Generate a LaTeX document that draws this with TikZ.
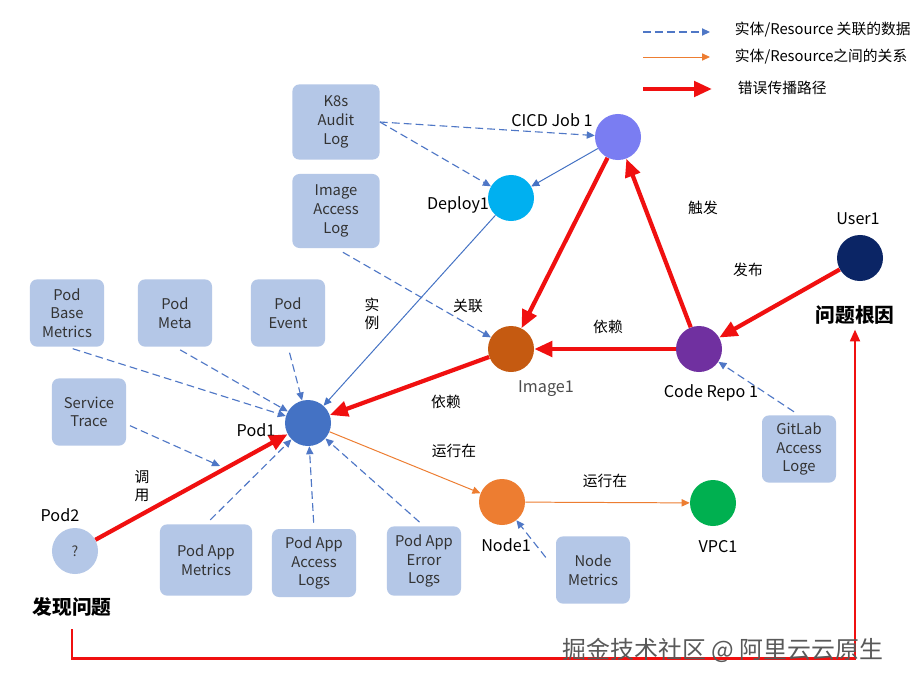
\documentclass[tikz,border=0pt]{standalone}
\usepackage{fontspec}
\setmainfont{Noto Sans CJK SC}
\usepackage{xcolor}
\usepackage{tikz}
\usetikzlibrary{arrows.meta, positioning}

\definecolor{boxc}{HTML}{B4C7E7}
\definecolor{linkc}{HTML}{4F77C6}
\definecolor{errc}{HTML}{F01010}
\definecolor{cicdc}{HTML}{7A7DF2}
\definecolor{depc}{HTML}{00B0F0}
\definecolor{imgc}{HTML}{C55A11}
\definecolor{repoc}{HTML}{7030A0}
\definecolor{userc}{HTML}{0B2565}
\definecolor{podc}{HTML}{4472C4}
\definecolor{nodec}{HTML}{ED7D31}
\definecolor{vpcc}{HTML}{00B050}

\begin{document}
\begin{tikzpicture}[
    x=0.025cm, y=-0.025cm,
    every node/.style={font=\fontsize{10.5}{12}\selectfont},
    ent/.style={circle, minimum size=11.5mm, inner sep=0pt},
    dat/.style={rectangle, rounded corners=5pt, fill=boxc, text=black!80,
                minimum width=18.5mm, minimum height=16.8mm, align=center,
                inner sep=2pt, font=\fontsize{10.5}{13.3}\selectfont},
    lab/.style={font=\fontsize{11.5}{13}\selectfont},
    rlab/.style={font=\fontsize{10.5}{12.5}\selectfont, align=center},
    big/.style={font=\fontsize{14}{16}\selectfont\bfseries},
    dep/.style={-{Triangle[length=2mm,width=1.8mm]}, dash pattern=on 5.5pt off 3pt,
                line width=0.8pt, linkc},
    rel/.style={-{Triangle[length=2mm,width=1.8mm]}, line width=0.7pt},
    err/.style={-{Triangle[length=4.5mm,width=3.8mm]}, line width=3pt, errc},
    fb/.style={-{Triangle[length=3mm,width=2.4mm]}, line width=2pt, errc},
  ]
    \useasboundingbox (0,0) rectangle (912,684);
    \fill[white] (0,0) rectangle (912,684);

    % entities
    \node[ent, fill=cicdc] (cicd) at (618,137) {};
    \node[ent, fill=depc] (deploy) at (511,198) {};
    \node[ent, fill=imgc] (img) at (511,349) {};
    \node[ent, fill=repoc] (repo) at (699,349) {};
    \node[ent, fill=userc] (user) at (860,258) {};
    \node[ent, fill=podc] (pod1) at (308,423) {};
    \node[ent, fill=nodec] (node1) at (502,502) {};
    \node[ent, fill=vpcc] (vpc) at (713,503) {};
    \node[ent, fill=boxc, text=black!75, font=\fontsize{10}{12}\selectfont] (pod2) at (75,551) {?};

    \node[lab] (cicdl) at (552,120) {CICD Job 1};
    \node[lab] (deployl) at (458,205) {Deploy1};
    \node[lab, text=black!70] (imgl) at (546,389) {Image1};
    \node[lab] (repol) at (711,393) {Code Repo 1};
    \node[lab] (userl) at (858,219) {User1};
    \node[lab] (pod1l) at (256,430) {Pod1};
    \node[lab] (node1l) at (506,545) {Node1};
    \node[lab] (vpcl) at (718,547) {VPC1};
    \node[lab] (pod2l) at (60,515) {Pod2};
    \node[big] (root) at (855,315) {问题根因};
    \node[big] (found) at (72,607) {发现问题};

    % data boxes
    \node[dat, minimum width=21.8mm, minimum height=18.8mm] (audit) at (336,122) {K8s\\Audit\\Log};
    \node[dat, minimum width=21.8mm, minimum height=18.5mm] (imglog) at (336,211) {Image\\Access\\Log};
    \node[dat] (basem) at (67,313) {Pod\\Base\\Metrics};
    \node[dat] (meta) at (175,313) {Pod\\Meta};
    \node[dat] (event) at (288,313) {Pod\\Event};
    \node[dat] (trace) at (89,412) {Service\\Trace};
    \node[dat, minimum width=23mm, minimum height=17.8mm] (appm) at (206,560) {Pod App\\Metrics};
    \node[dat, minimum width=21mm, minimum height=17mm] (applog) at (314,563) {Pod App\\Access\\Logs};
    \node[dat, minimum height=17.3mm] (apperr) at (424,561) {Pod App\\Error\\Logs};
    \node[dat] (nodem) at (593,570) {Node\\Metrics};
    \node[dat] (gitlog) at (799,449) {GitLab\\Access\\Loge};

    % data links
    \coordinate (svc) at (220,466);
    \draw[dep] (audit.east) -- (cicd);
    \draw[dep] (audit.east) -- (deploy);
    \draw[dep, shorten <=2mm] (imglog.south) -- (img);
    \draw[dep, shorten <=1.5mm] (basem.south) -- (pod1);
    \draw[dep, shorten <=1.5mm] (meta.south) -- (pod1);
    \draw[dep, shorten <=1.5mm] (event.south) -- (pod1);
    \draw[dep, shorten <=1mm] ([yshift=-3mm]trace.east) -- (svc);
    \draw[dep, shorten <=1.5mm] (appm.north) -- (pod1);
    \draw[dep, shorten <=1.5mm] (applog.north) -- (pod1);
    \draw[dep, shorten <=1.5mm] (apperr.north) -- (pod1);
    \draw[dep, shorten <=4mm] (nodem.west) -- (node1);
    \draw[dep, shorten <=1.5mm] (gitlog.north) -- (repo);

    % relations
    \draw[rel, podc] (cicd) -- (deploy);
    \draw[rel, podc] (deploy) -- (pod1);
    \draw[rel, nodec] (pod1) -- (node1);
    \draw[rel, nodec] (node1) -- (vpc);

    % error path
    \draw[err] (pod2) -- (pod1);
    \draw[err] (img) -- (pod1);
    \draw[err] (cicd) -- (img);
    \draw[err] (repo) -- (img);
    \draw[err] (repo) -- (cicd);
    \draw[err] (user) -- (repo);
    \draw[fb, shorten <=2mm] (found.south) -- ++(0,37) -| (root.south);

    % relation labels
    \node[rlab] (inst) at (372,314) {实\\例};
    \node[rlab] (assoc) at (468,306) {关联};
    \node[rlab] (depa) at (446,402) {依赖};
    \node[rlab] (depb) at (608,327) {依赖};
    \node[rlab] (trig) at (703,208) {触发};
    \node[rlab] (pub) at (748,270) {发布};
    \node[rlab] (call) at (142,486) {调\\用};
    \node[rlab] (runa) at (454,451) {运行在};
    \node[rlab] (runb) at (605,481) {运行在};

    % legend
    \coordinate (lga) at (643,32);  \coordinate (lgb) at (710,32);
    \coordinate (lgc) at (643,57);  \coordinate (lgd) at (710,57);
    \coordinate (lge) at (643,89);  \coordinate (lgf) at (712,89);
    \draw[dep] (lga) -- (lgb);
    \draw[rel, nodec] (lgc) -- (lgd);
    \draw[err] (lge) -- (lgf);
    \node[anchor=west] (lgt1) at (730,30) {实体/Resource 关联的数据};
    \node[anchor=west] (lgt2) at (730,57) {实体/Resource之间的关系};
    \node[anchor=west] (lgt3) at (733,88) {错误传播路径};

    \node[font=\fontsize{17}{19}\selectfont, text=black!65] (wm) at (723,650) {掘金技术社区 @ 阿里云云原生};
\end{tikzpicture}
\end{document}
